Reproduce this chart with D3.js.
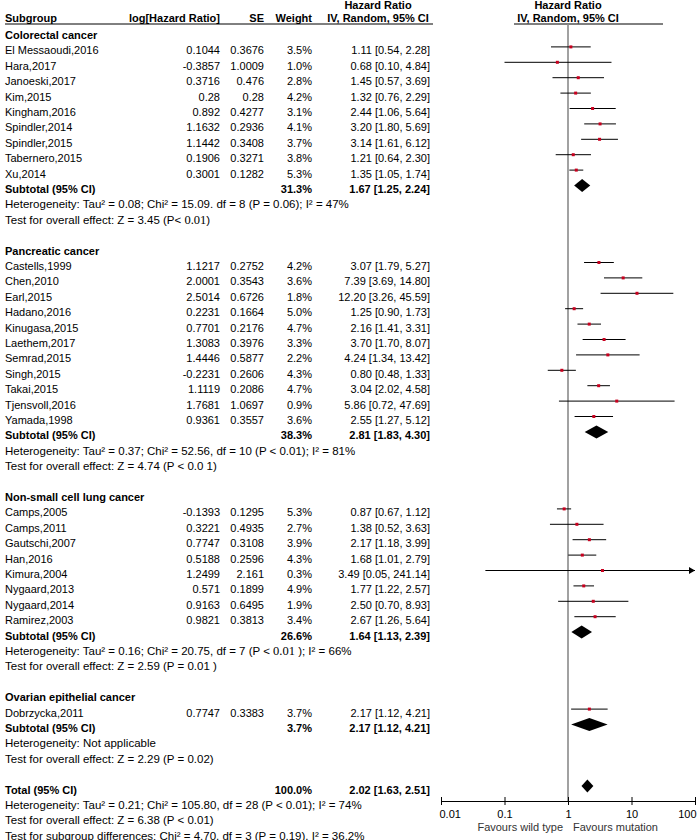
<!DOCTYPE html>
<html><head><meta charset="utf-8">
<script src="https://cdn.jsdelivr.net/npm/d3@7"></script>
<style>
body{margin:0;background:#fff;}
svg{display:block;font-family:"Liberation Sans",Arial,sans-serif;font-size:11px;}
</style></head>
<body>
<script>
// ---- data ----
// [study, log HR, SE, weight %, HR, lower, upper]
const colorectal = [
  ["El Messaoudi,2016", 0.1044, 0.3676, 3.5, 1.11, 0.54, 2.28],
  ["Hara,2017", -0.3857, 1.0009, 1.0, 0.68, 0.10, 4.84],
  ["Janoeski,2017", 0.3716, 0.476, 2.8, 1.45, 0.57, 3.69],
  ["Kim,2015", 0.28, 0.28, 4.2, 1.32, 0.76, 2.29],
  ["Kingham,2016", 0.892, 0.4277, 3.1, 2.44, 1.06, 5.64],
  ["Spindler,2014", 1.1632, 0.2936, 4.1, 3.20, 1.80, 5.69],
  ["Spindler,2015", 1.1442, 0.3408, 3.7, 3.14, 1.61, 6.12],
  ["Tabernero,2015", 0.1906, 0.3271, 3.8, 1.21, 0.64, 2.30],
  ["Xu,2014", 0.3001, 0.1282, 5.3, 1.35, 1.05, 1.74]
];
const pancreatic = [
  ["Castells,1999", 1.1217, 0.2752, 4.2, 3.07, 1.79, 5.27],
  ["Chen,2010", 2.0001, 0.3543, 3.6, 7.39, 3.69, 14.80],
  ["Earl,2015", 2.5014, 0.6726, 1.8, 12.20, 3.26, 45.59],
  ["Hadano,2016", 0.2231, 0.1664, 5.0, 1.25, 0.90, 1.73],
  ["Kinugasa,2015", 0.7701, 0.2176, 4.7, 2.16, 1.41, 3.31],
  ["Laethem,2017", 1.3083, 0.3976, 3.3, 3.70, 1.70, 8.07],
  ["Semrad,2015", 1.4446, 0.5877, 2.2, 4.24, 1.34, 13.42],
  ["Singh,2015", -0.2231, 0.2606, 4.3, 0.80, 0.48, 1.33],
  ["Takai,2015", 1.1119, 0.2086, 4.7, 3.04, 2.02, 4.58],
  ["Tjensvoll,2016", 1.7681, 1.0697, 0.9, 5.86, 0.72, 47.69],
  ["Yamada,1998", 0.9361, 0.3557, 3.6, 2.55, 1.27, 5.12]
];
const nsclc = [
  ["Camps,2005", -0.1393, 0.1295, 5.3, 0.87, 0.67, 1.12],
  ["Camps,2011", 0.3221, 0.4935, 2.7, 1.38, 0.52, 3.63],
  ["Gautschi,2007", 0.7747, 0.3108, 3.9, 2.17, 1.18, 3.99],
  ["Han,2016", 0.5188, 0.2596, 4.3, 1.68, 1.01, 2.79],
  ["Kimura,2004", 1.2499, 2.161, 0.3, 3.49, 0.05, 241.14],
  ["Nygaard,2013", 0.571, 0.1899, 4.9, 1.77, 1.22, 2.57],
  ["Nygaard,2014", 0.9163, 0.6495, 1.9, 2.50, 0.70, 8.93],
  ["Ramirez,2003", 0.9821, 0.3813, 3.4, 2.67, 1.26, 5.64]
];
const ovarian = [
  ["Dobrzycka,2011", 0.7747, 0.3383, 3.7, 2.17, 1.12, 4.21]
];
const groupNames = ["Colorectal cancer", "Pancreatic cancer", "Non-small cell lung cancer", "Ovarian epithelial cancer"];
// subtotal: [weight %, HR, lower, upper]
const subtotals = [[31.3, 1.67, 1.25, 2.24], [38.3, 2.81, 1.83, 4.30], [26.6, 1.64, 1.13, 2.39], [3.7, 2.17, 1.12, 4.21]];
// heterogeneity / overall-effect texts ("§" marks the serif 0.01 piece)
const hetTexts = [
  "Heterogeneity: Tau² = 0.08; Chi² = 15.09. df = 8 (P = 0.06); I² = 47%",
  "Heterogeneity: Tau² = 0.37; Chi² = 52.56, df = 10 (P < 0.01); I² = 81%",
  "Heterogeneity: Tau² = 0.16; Chi² = 20.75, df = 7 (P < §0.01§ ); I² = 66%",
  "Heterogeneity: Not applicable"
];
const testTexts = [
  "Test for overall effect: Z = 3.45 (P< §0.01§)",
  "Test for overall effect: Z = 4.74 (P < 0.0 1)",
  "Test for overall effect: Z = 2.59 (P = 0.01 )",
  "Test for overall effect: Z = 2.29 (P = 0.02)"
];
const total = [100.0, 2.02, 1.63, 2.51];
const totalTexts = [
  "Heterogeneity: Tau² = 0.21; Chi² = 105.80, df = 28 (P < 0.01); I² = 74%",
  "Test for overall effect: Z = 6.38 (P < 0.01)",
  "Test for subgroup differences: Chi² = 4.70, df = 3 (P = 0.19), I² = 36.2%"
];
const tickValues = [0.01, 0.1, 1, 10, 100];
const tickLabels = ["0.01", "0.1", "1", "10", "100"];
const favourLabels = ["Favours wild type", "Favours mutation"];
const groups = [colorectal, pancreatic, nsclc, ovarian];

// ---- layout ----
const W = 697, H = 840;
const svg = d3.select("body").append("svg").attr("width", W).attr("height", H);
const x = d3.scaleLog().domain([0.01, 100]).range([441, 695]);
const row0 = 35, step = 15.4, off = -3.5;
const yRow = i => row0 + i * step;
const colX = {name: 5, log: 220, se: 264, w: 312, ci: 430};
const fmtHR = (h, l, u) => `${h.toFixed(2)} [${l.toFixed(2)}, ${u.toFixed(2)}]`;

function txt(s, xx, yy, anchor, bold, size) {
  const t = svg.append("text").attr("x", xx).attr("y", yy + 4).attr("text-anchor", anchor || "start")
    .attr("font-weight", bold ? "bold" : null).attr("font-size", size || null);
  const parts = s.split("§");
  parts.forEach((p, k) => {
    const ts = t.append("tspan").text(p);
    if (k % 2 === 1) ts.attr("font-family", "'Liberation Serif','DejaVu Serif',serif").attr("font-size", "12.5px");
  });
  return t;
}
const statSize = "11.5px";

// header
txt("Subgroup", colX.name, 18, "start", true);
txt("log[Hazard Ratio]", colX.log, 18, "end", true);
txt("SE", colX.se, 18, "end", true);
txt("Weight", colX.w, 18, "end", true);
txt("Hazard Ratio", 378, 5, "middle", true);
txt("IV, Random, 95% CI", 378, 18, "middle", true);
txt("Hazard Ratio", x(1), 5, "middle", true);
txt("IV, Random, 95% CI", x(1), 18, "middle", true);
svg.append("line").attr("x1", 5).attr("x2", 433).attr("y1", 24).attr("y2", 24).attr("stroke", "#000").attr("stroke-width", 1);
svg.append("line").attr("x1", 514).attr("x2", 663).attr("y1", 24).attr("y2", 24).attr("stroke", "#000").attr("stroke-width", 1);

// vertical null line
svg.append("line").attr("x1", x(1)).attr("x2", x(1)).attr("y1", 24).attr("y2", 801)
  .attr("stroke", "#8a8a8a").attr("stroke-width", 1.6);

function diamond(vals, yy) {
  const [, h, l, u] = vals, c = yy + off, hh = 6.5;
  svg.append("path").attr("d", `M${x(l)},${c} L${x(h)},${c - hh} L${x(u)},${c} L${x(h)},${c + hh} Z`).attr("fill", "#000");
}

let r = 0;
groups.forEach((g, gi) => {
  txt(groupNames[gi], colX.name, yRow(r), "start", true); r++;
  g.forEach(d => {
    const yy = yRow(r);
    txt(d[0], colX.name, yy);
    txt(String(d[1]), colX.log, yy, "end");
    txt(String(d[2]), colX.se, yy, "end");
    txt(d[3].toFixed(1) + "%", colX.w, yy, "end");
    txt(fmtHR(d[4], d[5], d[6]), colX.ci, yy, "end");
    const c = yy + off;
    const [d0, d1] = x.domain();
    const lo = Math.max(d[5], d0), hi = Math.min(d[6], d1);
    svg.append("line").attr("x1", x(lo)).attr("x2", x(hi)).attr("y1", c).attr("y2", c).attr("stroke", "#000").attr("stroke-width", 1);
    if (d[6] > d1) {
      const ax = x(d1);
      svg.append("path").attr("d", `M${ax},${c} L${ax - 6},${c - 3.5} L${ax - 6},${c + 3.5} Z`).attr("fill", "#000");
    }
    svg.append("rect").attr("x", x(d[4]) - 1.5).attr("y", c - 1.5).attr("width", 3).attr("height", 3).attr("fill", "#c8001e");
    r++;
  });
  const st = subtotals[gi], yy = yRow(r);
  txt("Subtotal (95% CI)", colX.name, yy, "start", true);
  txt(st[0].toFixed(1) + "%", colX.w, yy, "end", true);
  txt(fmtHR(st[1], st[2], st[3]), colX.ci, yy, "end", true);
  diamond(st, yy); r++;
  txt(hetTexts[gi], colX.name, yRow(r), "start", false, statSize); r++;
  txt(testTexts[gi], colX.name, yRow(r), "start", false, statSize); r++;
  r++;
});
{
  const yy = yRow(r);
  txt("Total (95% CI)", colX.name, yy, "start", true);
  txt(total[0].toFixed(1) + "%", colX.w, yy, "end", true);
  txt(fmtHR(total[1], total[2], total[3]), colX.ci, yy, "end", true);
  diamond(total, yy); r++;
  totalTexts.forEach(s => { txt(s, colX.name, yRow(r), "start", false, statSize); r++; });
}

// axis
const axY = 801;
const ax = svg.append("g").attr("transform", `translate(0,${axY})`)
  .call(d3.axisBottom(x).tickValues(tickValues).tickFormat((d, i) => tickLabels[i]).tickSize(4).tickPadding(5).tickSizeOuter(0));
ax.select(".domain").attr("stroke", "#000");
ax.selectAll(".tick line").attr("y1", -4).attr("y2", 4).attr("stroke", "#000");
ax.selectAll(".tick text").attr("font-size", "11px").attr("font-family", "'Liberation Sans',Arial,sans-serif").attr("fill", "#000")
  .attr("text-anchor", (d, i) => i === 0 ? "start" : (i === tickValues.length - 1 ? "end" : "middle"))
  .attr("dx", (d, i) => i === 0 ? -2 : (i === tickValues.length - 1 ? 1 : 0));
svg.append("text").attr("x", x(1) - 5).attr("y", 831).attr("text-anchor", "end").attr("fill", "#333").text(favourLabels[0]);
svg.append("text").attr("x", x(1) + 5).attr("y", 831).attr("text-anchor", "start").attr("fill", "#333").text(favourLabels[1]);
</script>
</body></html>
